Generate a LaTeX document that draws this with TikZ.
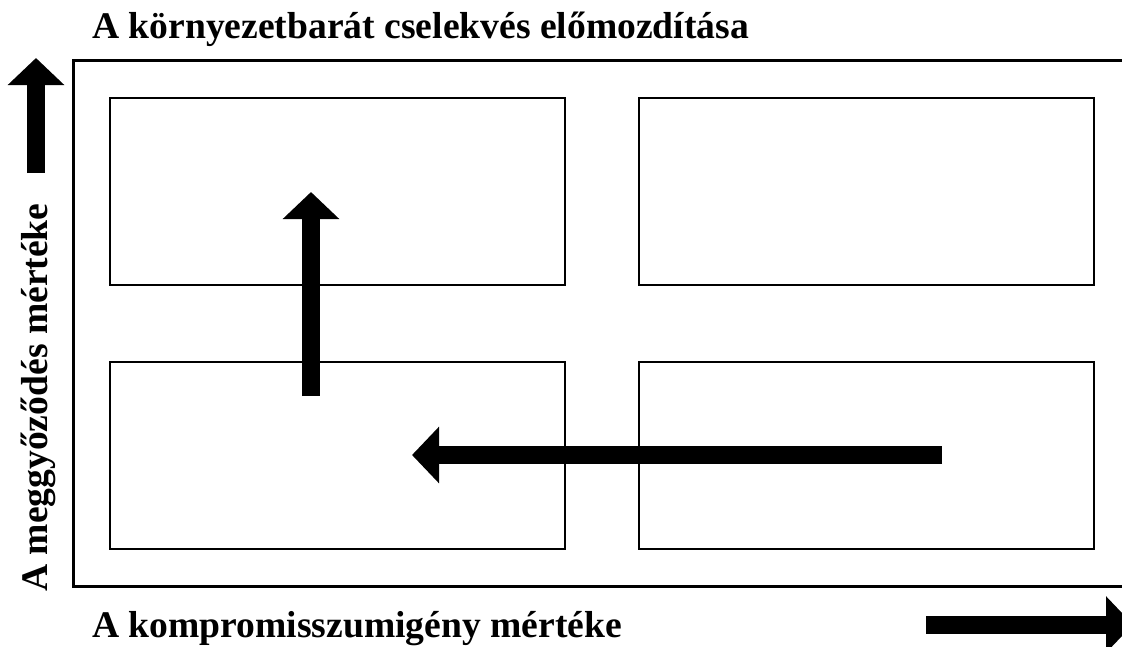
\documentclass[tikz,border=0pt]{standalone}
\usepackage{fontspec}
\setmainfont{Liberation Serif}
\usetikzlibrary{arrows.meta}

\tikzset{
  cell/.style={draw,line width=2pt,minimum width=455pt,minimum height=187pt,inner sep=0pt},
  bigarrow/.style={line width=18pt,-{Triangle[length=27pt,width=55pt]}},
  label/.style={font=\fontsize{37.6}{42}\selectfont\bfseries,inner sep=0pt}
}

\begin{document}
\begin{tikzpicture}[x=1pt,y=-1pt]

\useasboundingbox (0,0) rectangle (1122,646);

% frame
\coordinate(F) at (73,60);
\draw[line width=3pt] (1135,60) -- (F) -- (73,586) -- (1135,586);

% four fields
\node[cell] (tl) at (337.5,191.5) {};
\node[cell] (tr) at (866.5,191.5) {};
\node[cell] (bl) at (337.5,455.5) {};
\node[cell] (br) at (866.5,455.5) {};

% movement
\coordinate(U0) at (311,396);
\coordinate(U1) at (311,192);
\coordinate(L0) at (942,455);
\coordinate(L1) at (412,455);
\draw[bigarrow] (U0) -- (U1);
\draw[bigarrow] (L0) -- (L1);

% axes
\coordinate(Y0) at (36,173);
\coordinate(Y1) at (36,58);
\coordinate(X0) at (926,624.5);
\coordinate(X1) at (1133,624.5);
\draw[bigarrow] (Y0) -- (Y1);
\draw[bigarrow] (X0) -- (X1);

\node[label,anchor=base west] (title) at (92,38) {A környezetbarát cselekvés előmozdítása};
\node[label,anchor=base west] (xlab) at (92,637) {A kompromisszumigény mértéke};
\node[label,anchor=base west,rotate=90] (ylab) at (47,592) {A meggyőződés mértéke};

\end{tikzpicture}
\end{document}
